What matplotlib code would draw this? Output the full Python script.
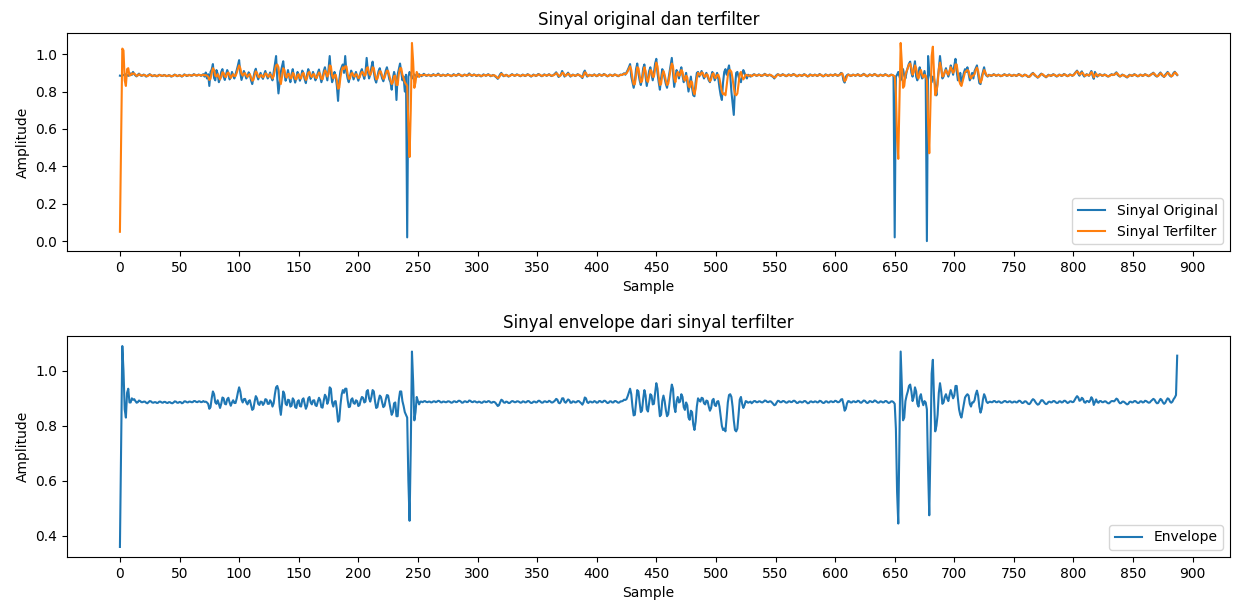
import numpy as np
import matplotlib
matplotlib.use("Agg")
import matplotlib.pyplot as plt

# Raw sensor samples (amplitude x 1000)
original_milli = [
    885, 884, 887, 889, 886, 893, 888, 884, 891, 897, 889, 905, 893, 886, 881, 890, 896, 888, 884, 887,
    891, 886, 880, 884, 889, 893, 887, 882, 885, 888, 884, 881, 886, 890, 887, 883, 885, 889, 886, 882,
    884, 888, 885, 880, 883, 887, 891, 886, 882, 885, 889, 884, 880, 886, 892, 888, 883, 886, 890, 887,
    884, 888, 893, 889, 885, 887, 891, 888, 884, 889, 893, 880, 902, 870, 893, 830, 905, 918, 947, 872,
    860, 915, 895, 850, 870, 905, 920, 880, 862, 890, 915, 897, 865, 878, 905, 885, 870, 892, 915, 940,
    968, 900, 862, 885, 910, 892, 870, 880, 903, 890, 860, 840, 875, 905, 922, 885, 865, 882, 900, 880,
    868, 893, 910, 888, 870, 885, 902, 875, 860, 905, 945, 990, 870, 790, 850, 905, 935, 962, 900, 858,
    880, 915, 880, 850, 893, 920, 875, 848, 870, 905, 888, 858, 880, 912, 895, 865, 845, 890, 920, 900,
    868, 880, 905, 885, 860, 875, 900, 918, 880, 850, 872, 910, 930, 895, 860, 920, 990, 900, 850, 870,
    905, 880, 830, 750, 860, 910, 930, 945, 900, 990, 905, 870, 850, 880, 912, 895, 865, 885, 905, 880,
    858, 880, 905, 920, 890, 868, 900, 980, 910, 870, 890, 930, 960, 905, 865, 848, 880, 910, 925, 895,
    870, 855, 885, 912, 930, 900, 865, 850, 810, 870, 905, 880, 755, 890, 920, 950, 905, 860, 880, 800,
    890, 20, 880, 905, 890, 870, 882, 892, 885, 878, 886, 893, 887, 882, 889, 895, 888, 884, 887, 891,
    886, 882, 889, 893, 887, 884, 890, 896, 889, 883, 886, 891, 888, 884, 887, 893, 889, 885, 882, 888,
    893, 887, 884, 889, 895, 890, 885, 882, 887, 891, 888, 884, 890, 897, 889, 884, 887, 892, 888, 883,
    887, 890, 885, 881, 886, 892, 888, 884, 889, 893, 887, 882, 885, 889, 886, 880, 875, 868, 880, 893,
    900, 887, 882, 886, 890, 885, 880, 884, 889, 893, 888, 884, 887, 892, 889, 885, 882, 887, 891, 886,
    883, 888, 893, 889, 884, 880, 886, 891, 887, 883, 888, 894, 890, 885, 882, 887, 892, 888, 884, 889,
    893, 887, 883, 886, 890, 896, 903, 890, 878, 884, 892, 910, 896, 880, 887, 893, 901, 888, 880, 886,
    891, 887, 883, 888, 893, 889, 884, 880, 872, 900, 912, 893, 880, 885, 890, 887, 883, 888, 892, 886,
    882, 887, 893, 889, 884, 888, 894, 890, 885, 881, 886, 891, 888, 883, 887, 892, 889, 885, 882, 887,
    891, 888, 893, 898, 890, 902, 915, 930, 947, 880, 850, 820, 855, 920, 950, 900, 860, 835, 870, 925,
    945, 880, 830, 870, 910, 930, 890, 860, 900, 950, 975, 900, 850, 810, 870, 920, 905, 870, 840, 820,
    860, 900, 940, 980, 900, 825, 870, 915, 895, 870, 905, 930, 885, 850, 870, 900, 850, 800, 840, 880,
    820, 780, 775, 850, 900, 905, 880, 895, 910, 890, 870, 885, 900, 880, 860, 850, 880, 905, 890, 860,
    880, 900, 870, 820, 780, 755, 850, 905, 920, 890, 915, 940, 890, 800, 740, 675, 820, 900, 905, 880,
    860, 850, 890, 915, 900, 880, 870, 890, 885, 880, 884, 889, 893, 888, 884, 887, 892, 888, 883, 886,
    890, 895, 888, 884, 887, 891, 886, 882, 878, 870, 882, 889, 893, 888, 884, 888, 893, 889, 885, 882,
    887, 892, 888, 884, 889, 894, 890, 885, 881, 886, 890, 887, 883, 888, 893, 889, 884, 880, 886, 892,
    888, 884, 887, 891, 887, 883, 888, 894, 889, 885, 881, 886, 892, 888, 883, 887, 891, 888, 884, 889,
    893, 888, 884, 887, 892, 900, 895, 860, 848, 880, 888, 892, 887, 883, 886, 891, 888, 884, 889, 893,
    887, 883, 886, 890, 895, 889, 884, 881, 887, 892, 888, 884, 889, 894, 890, 885, 882, 887, 891, 887,
    884, 888, 893, 889, 885, 882, 887, 891, 888, 884, 20, 880, 890, 905, 880, 860, 900, 920, 885, 870,
    905, 930, 950, 960, 900, 880, 925, 962, 880, 860, 905, 930, 895, 870, 880, 910, 870, 0, 990, 900,
    880, 850, 880, 870, 830, 780, 860, 920, 990, 930, 870, 880, 905, 925, 900, 880, 900, 940, 920, 890,
    940, 975, 910, 860, 870, 900, 850, 870, 900, 920, 905, 930, 895, 860, 880, 900, 870, 910, 925, 940,
    890, 845, 840, 880, 905, 930, 895, 885, 880, 890, 887, 883, 888, 893, 889, 884, 887, 891, 886, 882,
    885, 889, 893, 888, 884, 887, 892, 888, 883, 886, 890, 887, 883, 888, 894, 889, 885, 881, 886, 891,
    887, 883, 878, 880, 888, 895, 900, 890, 884, 880, 874, 882, 890, 896, 891, 885, 881, 876, 884, 890,
    887, 883, 888, 893, 889, 884, 880, 886, 891, 887, 883, 888, 894, 890, 885, 882, 887, 892, 888, 884,
    889, 897, 905, 912, 895, 885, 900, 908, 890, 880, 886, 893, 888, 884, 898, 910, 885, 868, 905, 890,
    880, 888, 893, 889, 884, 887, 892, 888, 883, 880, 884, 889, 893, 888, 890, 897, 903, 890, 884, 880,
    886, 891, 887, 883, 879, 875, 884, 890, 887, 883, 888, 893, 889, 884, 881, 886, 891, 887, 883, 888,
    893, 889, 885, 882, 887, 892, 896, 901, 890, 884, 880, 886, 895, 902, 888, 883, 878, 890, 897, 905,
    892, 884, 880, 888, 900, 906, 895, 888,
]

# Low-pass filtered samples (amplitude x 1000)
filtered_milli = [
    50, 560, 1030, 1020, 860, 830, 920, 925, 885, 888, 897, 895, 897, 890, 884, 886, 892, 890, 886, 886,
    888, 888, 884, 882, 886, 890, 889, 885, 884, 886, 886, 883, 884, 888, 888, 885, 884, 887, 887, 884,
    883, 886, 886, 883, 882, 885, 889, 888, 884, 884, 887, 886, 882, 884, 889, 889, 886, 885, 888, 888,
    886, 886, 890, 890, 887, 886, 889, 889, 886, 887, 890, 887, 888, 885, 880, 862, 868, 900, 925, 915,
    885, 880, 893, 880, 865, 880, 903, 900, 880, 878, 897, 902, 885, 873, 885, 893, 883, 883, 900, 922,
    940, 925, 895, 885, 897, 898, 885, 878, 890, 893, 876, 858, 862, 888, 908, 900, 880, 876, 888, 887,
    876, 882, 897, 895, 880, 880, 893, 886, 870, 882, 915, 940, 945, 930, 870, 840, 880, 925, 915, 880,
    875, 895, 893, 870, 873, 900, 893, 868, 865, 888, 893, 872, 870, 895, 900, 880, 862, 873, 900, 905,
    885, 878, 892, 893, 875, 872, 888, 902, 893, 868, 866, 892, 913, 905, 880, 893, 940, 935, 885, 870,
    888, 890, 860, 815, 820, 875, 913, 930, 920, 935, 935, 895, 868, 870, 895, 900, 883, 880, 893, 890,
    872, 875, 893, 905, 902, 885, 888, 925, 930, 900, 888, 905, 930, 925, 890, 865, 868, 893, 910, 905,
    885, 868, 873, 895, 912, 910, 885, 862, 840, 850, 882, 885, 835, 835, 895, 925, 925, 890, 872, 850,
    840, 830, 620, 450, 700, 1060, 960, 820, 850, 905, 890, 878, 888, 888, 886, 889, 890, 887, 886, 888,
    888, 885, 886, 889, 889, 886, 888, 891, 890, 886, 885, 888, 888, 886, 886, 889, 889, 887, 884, 885,
    889, 889, 886, 887, 891, 891, 888, 884, 885, 889, 889, 886, 887, 892, 891, 887, 886, 889, 889, 886,
    885, 888, 887, 884, 884, 888, 889, 886, 887, 890, 889, 885, 884, 887, 887, 884, 878, 872, 875, 886,
    895, 892, 885, 884, 888, 887, 883, 883, 887, 890, 889, 886, 886, 889, 889, 887, 884, 885, 889, 888,
    885, 886, 890, 890, 886, 883, 884, 888, 888, 885, 886, 891, 891, 887, 884, 885, 889, 889, 886, 887,
    891, 889, 885, 885, 888, 892, 898, 895, 884, 882, 888, 900, 900, 887, 884, 890, 896, 893, 884, 884,
    889, 888, 885, 886, 890, 890, 886, 882, 877, 886, 903, 900, 886, 883, 888, 888, 885, 886, 890, 888,
    884, 885, 890, 890, 886, 886, 891, 891, 887, 883, 884, 889, 889, 885, 885, 890, 890, 887, 884, 885,
    889, 889, 891, 895, 894, 897, 908, 922, 935, 915, 870, 838, 840, 885, 930, 925, 885, 850, 855, 898,
    930, 910, 860, 852, 885, 915, 910, 878, 880, 920, 955, 935, 880, 835, 840, 890, 910, 890, 858, 835,
    842, 880, 920, 950, 935, 870, 850, 890, 905, 885, 888, 915, 905, 868, 858, 885, 875, 830, 822, 855,
    850, 805, 785, 815, 870, 900, 893, 888, 902, 900, 882, 878, 892, 890, 870, 855, 865, 893, 898, 875,
    872, 888, 890, 870, 835, 800, 785, 790, 780, 830, 885, 912, 915, 905, 870, 820, 785, 780, 790, 840,
    895, 905, 880, 865, 875, 890, 888, 884, 886, 888, 882, 886, 890, 890, 886, 886, 889, 889, 886, 885,
    888, 892, 891, 887, 886, 889, 889, 885, 880, 875, 877, 885, 891, 890, 886, 886, 890, 890, 887, 884,
    885, 889, 889, 886, 887, 891, 891, 887, 883, 884, 888, 888, 885, 886, 890, 890, 886, 882, 883, 888,
    889, 886, 886, 889, 888, 885, 886, 891, 890, 886, 883, 884, 889, 889, 885, 885, 889, 889, 886, 887,
    891, 890, 886, 886, 889, 896, 897, 878, 855, 862, 882, 890, 889, 885, 885, 889, 889, 886, 887, 891,
    890, 885, 884, 888, 892, 891, 886, 883, 885, 890, 889, 886, 887, 892, 891, 887, 884, 885, 889, 888,
    885, 886, 890, 890, 886, 883, 885, 889, 889, 886, 880, 790, 550, 440, 760, 1060, 950, 820, 830, 890,
    910, 925, 945, 950, 925, 890, 905, 940, 925, 880, 870, 905, 915, 890, 875, 890, 885, 860, 640, 470,
    720, 990, 1040, 900, 780, 800, 840, 920, 955, 925, 880, 885, 905, 915, 900, 890, 912, 930, 915, 900,
    910, 945, 945, 900, 860, 840, 830, 855, 880, 903, 910, 915, 910, 880, 870, 885, 885, 893, 915, 928,
    910, 870, 848, 862, 895, 915, 905, 888, 883, 886, 888, 886, 886, 890, 890, 886, 886, 889, 888, 884,
    884, 887, 890, 890, 886, 886, 889, 889, 885, 885, 888, 888, 885, 886, 891, 891, 887, 883, 884, 889,
    889, 885, 880, 879, 884, 892, 897, 894, 887, 881, 877, 879, 886, 893, 893, 888, 882, 879, 881, 887,
    888, 885, 886, 890, 890, 886, 883, 884, 889, 889, 885, 886, 891, 891, 887, 883, 885, 889, 889, 886,
    887, 894, 902, 908, 903, 891, 893, 902, 898, 886, 884, 890, 890, 886, 892, 904, 897, 876, 886, 896,
    886, 884, 890, 890, 886, 886, 889, 889, 885, 882, 882, 887, 890, 890, 889, 893, 899, 896, 887, 882,
    883, 888, 888, 885, 881, 878, 880, 887, 888, 885, 886, 890, 890, 886, 883, 884, 889, 889, 885, 886,
    891, 890, 887, 884, 885, 890, 894, 898, 895, 887, 882, 883, 891, 898, 894, 885, 880, 884, 893, 900,
    897, 888, 882, 884, 894, 902, 899, 890,
]

# Envelope of the filtered signal (amplitude x 1000)
envelope_milli = [
    360, 720, 1090, 1000, 860, 830, 920, 935, 885, 885, 900, 895, 897, 890, 884, 886, 892, 890, 886, 886,
    888, 888, 884, 882, 886, 890, 889, 885, 884, 886, 886, 883, 884, 888, 888, 885, 884, 887, 887, 884,
    883, 886, 886, 883, 882, 885, 889, 888, 884, 884, 887, 886, 882, 884, 889, 889, 886, 885, 888, 888,
    886, 886, 890, 890, 887, 886, 889, 889, 886, 887, 890, 887, 888, 885, 880, 862, 868, 900, 925, 915,
    885, 880, 893, 880, 865, 880, 903, 900, 880, 878, 897, 902, 885, 873, 885, 893, 883, 883, 900, 922,
    940, 925, 895, 885, 897, 898, 885, 878, 890, 893, 876, 858, 862, 888, 908, 900, 880, 876, 888, 887,
    876, 882, 897, 895, 880, 880, 893, 886, 870, 882, 915, 940, 945, 930, 870, 840, 880, 925, 915, 880,
    875, 895, 893, 870, 873, 900, 893, 868, 865, 888, 893, 872, 870, 895, 900, 880, 862, 873, 900, 905,
    885, 878, 892, 893, 875, 872, 888, 902, 893, 868, 866, 892, 913, 905, 880, 893, 940, 935, 885, 870,
    888, 890, 860, 815, 820, 875, 913, 930, 920, 935, 935, 895, 868, 870, 895, 900, 883, 880, 893, 890,
    872, 875, 893, 905, 902, 885, 888, 925, 930, 900, 888, 905, 930, 925, 890, 865, 868, 893, 910, 905,
    885, 868, 873, 895, 912, 910, 885, 862, 840, 850, 882, 885, 835, 835, 895, 925, 925, 890, 872, 850,
    840, 830, 600, 455, 720, 1070, 960, 820, 850, 905, 890, 878, 888, 888, 886, 889, 890, 887, 886, 888,
    888, 885, 886, 889, 889, 886, 888, 891, 890, 886, 885, 888, 888, 886, 886, 889, 889, 887, 884, 885,
    889, 889, 886, 887, 891, 891, 888, 884, 885, 889, 889, 886, 887, 892, 891, 887, 886, 889, 889, 886,
    885, 888, 887, 884, 884, 888, 889, 886, 887, 890, 889, 885, 884, 887, 887, 884, 878, 872, 875, 886,
    895, 892, 885, 884, 888, 887, 883, 883, 887, 890, 889, 886, 886, 889, 889, 887, 884, 885, 889, 888,
    885, 886, 890, 890, 886, 883, 884, 888, 888, 885, 886, 891, 891, 887, 884, 885, 889, 889, 886, 887,
    891, 889, 885, 885, 888, 892, 898, 895, 884, 882, 888, 900, 900, 887, 884, 890, 896, 893, 884, 884,
    889, 888, 885, 886, 890, 890, 886, 882, 877, 886, 903, 900, 886, 883, 888, 888, 885, 886, 890, 888,
    884, 885, 890, 890, 886, 886, 891, 891, 887, 883, 884, 889, 889, 885, 885, 890, 890, 887, 884, 885,
    889, 889, 891, 895, 894, 897, 908, 922, 935, 915, 870, 838, 840, 885, 930, 925, 885, 850, 855, 898,
    930, 910, 860, 852, 885, 915, 910, 878, 880, 920, 955, 935, 880, 835, 840, 890, 910, 890, 858, 835,
    842, 880, 920, 950, 935, 870, 850, 890, 905, 885, 888, 915, 905, 868, 858, 885, 875, 830, 822, 855,
    850, 805, 785, 815, 870, 900, 893, 888, 902, 900, 882, 878, 892, 890, 870, 855, 865, 893, 898, 875,
    872, 888, 890, 870, 835, 800, 785, 790, 780, 830, 885, 912, 915, 905, 870, 820, 785, 780, 790, 840,
    895, 905, 880, 865, 875, 890, 888, 884, 886, 888, 882, 886, 890, 890, 886, 886, 889, 889, 886, 885,
    888, 892, 891, 887, 886, 889, 889, 885, 880, 875, 877, 885, 891, 890, 886, 886, 890, 890, 887, 884,
    885, 889, 889, 886, 887, 891, 891, 887, 883, 884, 888, 888, 885, 886, 890, 890, 886, 882, 883, 888,
    889, 886, 886, 889, 888, 885, 886, 891, 890, 886, 883, 884, 889, 889, 885, 885, 889, 889, 886, 887,
    891, 890, 886, 886, 889, 896, 897, 878, 855, 862, 882, 890, 889, 885, 885, 889, 889, 886, 887, 891,
    890, 885, 884, 888, 892, 891, 886, 883, 885, 890, 889, 886, 887, 892, 891, 887, 884, 885, 889, 888,
    885, 886, 890, 890, 886, 883, 885, 889, 889, 886, 880, 790, 560, 445, 760, 1070, 950, 820, 830, 890,
    910, 925, 945, 950, 925, 890, 905, 940, 925, 880, 870, 905, 915, 890, 875, 890, 885, 860, 640, 475,
    720, 990, 1040, 900, 780, 800, 840, 920, 955, 925, 880, 885, 905, 915, 900, 890, 912, 930, 915, 900,
    910, 945, 945, 900, 860, 840, 830, 855, 880, 903, 910, 915, 910, 880, 870, 885, 885, 893, 915, 928,
    910, 870, 848, 862, 895, 915, 905, 888, 883, 886, 888, 886, 886, 890, 890, 886, 886, 889, 888, 884,
    884, 887, 890, 890, 886, 886, 889, 889, 885, 885, 888, 888, 885, 886, 891, 891, 887, 883, 884, 889,
    889, 885, 880, 879, 884, 892, 897, 894, 887, 881, 877, 879, 886, 893, 893, 888, 882, 879, 881, 887,
    888, 885, 886, 890, 890, 886, 883, 884, 889, 889, 885, 886, 891, 891, 887, 883, 885, 889, 889, 886,
    887, 894, 902, 908, 903, 891, 893, 902, 898, 886, 884, 890, 890, 886, 892, 904, 897, 876, 886, 896,
    886, 884, 890, 890, 886, 886, 889, 889, 885, 882, 882, 887, 890, 890, 889, 893, 899, 896, 887, 882,
    883, 888, 888, 885, 881, 878, 880, 887, 888, 885, 886, 890, 890, 886, 883, 884, 889, 889, 885, 886,
    891, 890, 887, 884, 885, 890, 894, 898, 895, 887, 882, 883, 891, 898, 894, 885, 880, 884, 893, 900,
    897, 888, 884, 888, 897, 903, 912, 1055,
]

tick_positions = list(range(0, 901, 50))

original = np.array(original_milli) / 1000.0
filtered = np.array(filtered_milli) / 1000.0
envelope = np.array(envelope_milli) / 1000.0
samples = np.arange(len(original))

fig = plt.figure(figsize=(12.35, 6.03), dpi=100)
ax1 = fig.add_axes([0.0543, 0.5837, 0.9417, 0.3615])
ax2 = fig.add_axes([0.0543, 0.0763, 0.9417, 0.3665])

ax1.plot(samples, original, label="Sinyal Original")
ax1.plot(samples, filtered, label="Sinyal Terfilter")
ax1.set_title("Sinyal original dan terfilter")
ax1.set_xlabel("Sample")
ax1.set_ylabel("Amplitude")
ax1.set_xticks(tick_positions)
ax1.legend(loc="lower right")

ax2.plot(samples, envelope, label="Envelope")
ax2.set_title("Sinyal envelope dari sinyal terfilter")
ax2.set_xlabel("Sample")
ax2.set_ylabel("Amplitude")
ax2.set_xticks(tick_positions)
ax2.legend(loc="lower right")

fig.savefig("out.png", dpi=100)
